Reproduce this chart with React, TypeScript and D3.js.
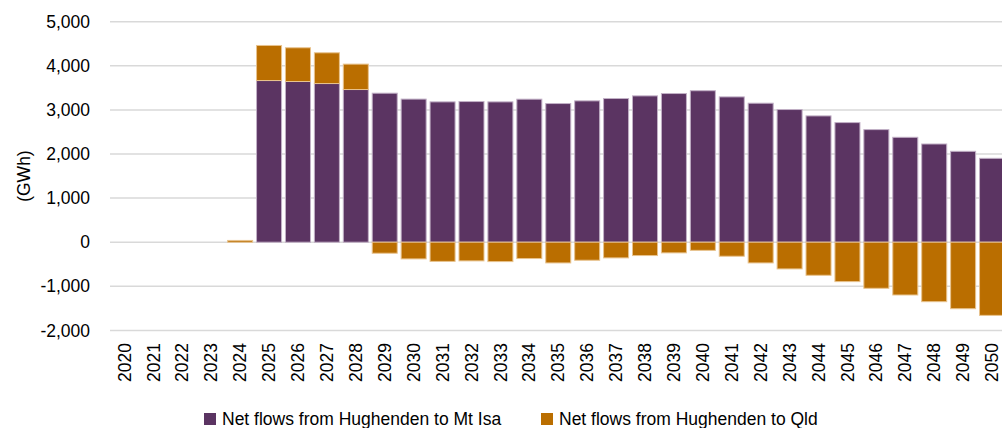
import React from "react";
import * as d3 from "d3";

const years: string[] = d3.range(2020, 2051).map(String);
const mtIsa: number[] = [0, 0, 0, 0, 0, 3666, 3644, 3598, 3462, 3379, 3245, 3182, 3189, 3182, 3243, 3144, 3205, 3258, 3318, 3371, 3435, 3295, 3152, 3008, 2864, 2712, 2553, 2379, 2227, 2061, 1902];
const qld: number[] = [0, 0, 0, 0, 40, 795, 765, 697, 576, -250, -379, -435, -424, -440, -371, -470, -409, -356, -303, -242, -185, -318, -470, -606, -750, -894, -1045, -1197, -1349, -1508, -1659];
const seriesNames: string[] = ["Net flows from Hughenden to Mt Isa", "Net flows from Hughenden to Qld"];
const colors: string[] = ["#5B3462", "#BA6E00"];
const strokes: string[] = ["#c2b0c6", "#e8c38e"];
const yTicks: number[] = [-2000, -1000, 0, 1000, 2000, 3000, 4000, 5000];

const W = 1002;
const H = 428;
const FONT = "'Liberation Sans', Arial, sans-serif";

export default function App() {
  const x = d3.scaleBand<string>().domain(years).range([110, 1006.5]).paddingInner(0.135).paddingOuter(0.0675);
  const y = d3.scaleLinear().domain([-2000, 5000]).range([330.4, 21.7]);

  const table = years.map((yr, i) => ({ year: yr, a: mtIsa[i], b: qld[i] }));
  const stacked = d3.stack<any>().keys(["a", "b"]).offset(d3.stackOffsetDiverging)(table);

  const fmt = (v: number) => d3.format(",")(v).replace("\u2212", "-");

  return (
    <div style={{ position: "absolute", left: 0, top: 0 }}>
      <svg width={W} height={H} style={{ display: "block", background: "#fff" }} fontFamily={FONT}>
        {yTicks.map((t) => (
          <g key={t}>
            <line x1={110} x2={W} y1={y(t)} y2={y(t)} stroke="#d9d9d9" strokeWidth={1.5} />
            <text x={90} y={y(t)} dy="0.35em" textAnchor="end" fontSize={17.5} fill="#000">
              {fmt(t)}
            </text>
          </g>
        ))}
        <text transform={`translate(24,${(y(5000) + y(-2000)) / 2}) rotate(-90)`} textAnchor="middle" dy="0.35em" fontSize={17.5} fill="#000">
          (GWh)
        </text>
        {stacked.map((s, si) => (
          <g key={si}>
            {s.map((d, i) => {
              const v0 = d[0];
              const v1 = d[1];
              if (v0 === v1) return null;
              const top = y(Math.max(v0, v1));
              const bot = y(Math.min(v0, v1));
              return (
                <rect
                  key={i}
                  x={x(years[i])!}
                  y={top}
                  width={x.bandwidth()}
                  height={Math.max(bot - top, 0.5)}
                  fill={colors[si]}
                  stroke={strokes[si]}
                  strokeWidth={1}
                />
              );
            })}
          </g>
        ))}
        {years.map((yr) => (
          <text
            key={yr}
            transform={`translate(${x(yr)! + x.bandwidth() / 2},343) rotate(-90)`}
            textAnchor="end"
            dy="0.35em"
            fontSize={17.5}
            fill="#000"
          >
            {yr}
          </text>
        ))}
        {seriesNames.map((n, i) => {
          const lx = [204, 541][i];
          return (
            <g key={n}>
              <rect x={lx} y={413} width={12} height={12} fill={colors[i]} />
              <text x={lx + 18} y={424.5} fontSize={17.5} fill="#000">
                {n}
              </text>
            </g>
          );
        })}
      </svg>
    </div>
  );
}
